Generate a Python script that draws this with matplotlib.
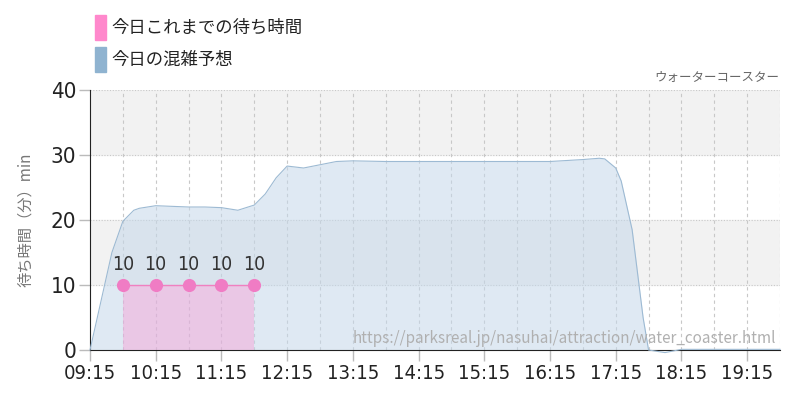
import matplotlib
matplotlib.use("Agg")
import matplotlib.pyplot as plt
from matplotlib.patches import Rectangle
from matplotlib import font_manager

plt.rcParams["font.family"] = ["Noto Sans CJK JP", "DejaVu Sans"]

# forecast (minutes after 09:15, wait minutes)
forecast_t = [0, 10, 20, 30, 40, 45, 60, 75, 90, 105, 120, 135, 150, 160, 170, 180, 195, 210, 225,
              240, 270, 300, 330, 360, 390, 420, 450, 465, 470, 480, 485, 495, 505, 510, 525, 540,
              570, 630]
forecast_v = [0, 7.5, 15.0, 19.8, 21.5, 21.8, 22.2, 22.1, 22.0, 22.0, 21.9, 21.5, 22.3, 24.0, 26.5,
              28.3, 28.0, 28.5, 29.0, 29.1, 29.0, 29.0, 29.0, 29.0, 29.0, 29.0, 29.3, 29.5, 29.4,
              28.0, 26.0, 18.5, 5.0, 0.0, -0.4, 0.1, 0.1, 0.1]

# actual observed waits
actual_t = [30, 60, 90, 120, 150]
actual_v = [10, 10, 10, 10, 10]

x_ticks = [0, 60, 120, 180, 240, 300, 360, 420, 480, 540, 600]
x_labels = ["09:15", "10:15", "11:15", "12:15", "13:15", "14:15", "15:15",
            "16:15", "17:15", "18:15", "19:15"]
y_ticks = [0, 10, 20, 30, 40]

num_font = font_manager.FontProperties(family="DejaVu Sans", stretch="condensed")

fig = plt.figure(figsize=(8, 4), dpi=100)
ax = fig.add_axes([0.1125, 0.125, 0.8625, 0.65])
ax.set_xlim(0, 630)
ax.set_ylim(0, 40)

# alternating bands
for lo in (10, 30):
    ax.axhspan(lo, lo + 10, color="#f2f2f2", zorder=0)

for x in range(30, 631, 30):
    ax.axvline(x, color="#c8c8c8", lw=0.8, ls=(0, (3, 3)), zorder=1)
for y in y_ticks[1:]:
    ax.axhline(y, color="#c8c8c8", lw=0.8, ls=(0, (1, 1.5)), zorder=1)

ax.fill_between(forecast_t, forecast_v, 0, color="#c5d8ea", alpha=0.55, lw=0, zorder=2)
ax.plot(forecast_t, forecast_v, color="#9dbad3", lw=0.8, zorder=4, clip_on=False)

ax.fill_between(actual_t, actual_v, 0, color="#ff88cc", alpha=0.35, lw=0, zorder=4)
ax.plot(actual_t, actual_v, color="#f080c0", lw=1, zorder=5)
ax.scatter(actual_t, actual_v, s=90, color="#f07cc4", zorder=6, lw=0)
for t, v in zip(actual_t, actual_v):
    txt = ax.annotate(str(v), (t, v), xytext=(0, 8), textcoords="offset points",
                      ha="center", va="bottom", color="#333333",
                      fontproperties=num_font, zorder=7)
    txt.set_fontsize(14)

ax.set_xticks(x_ticks)
ax.set_xticklabels(x_labels, fontproperties=num_font, color="#222222")
ax.set_yticks(y_ticks)
ax.set_yticklabels([str(y) for y in y_ticks], fontproperties=num_font, color="#222222")
for lab in ax.get_xticklabels():
    lab.set_fontsize(14.5)
for lab in ax.get_yticklabels():
    lab.set_fontsize(16)
ax.tick_params(axis="both", length=8, color="#bbbbbb", width=1, pad=2)

for side in ("top", "right"):
    ax.spines[side].set_visible(False)
ax.spines["left"].set_color("#222222")
ax.spines["bottom"].set_color("#222222")
ax.spines["bottom"].set_zorder(3)

ax.set_ylabel("待ち時間（分）min", fontsize=11, color="#777777", labelpad=12)

# legend
fig.patches.append(Rectangle((95 / 800, 1 - 40 / 400), 11 / 800, 25 / 400,
                             transform=fig.transFigure, color="#ff88cc"))
fig.text(111 / 800, 1 - 28 / 400, "今日これまでの待ち時間", fontsize=12.5,
         va="center", color="#222222")
fig.patches.append(Rectangle((95 / 800, 1 - 72 / 400), 11 / 800, 25 / 400,
                             transform=fig.transFigure, color="#8fb3d0"))
fig.text(111 / 800, 1 - 60 / 400, "今日の混雑予想", fontsize=12.5,
         va="center", color="#222222")

fig.text(779 / 800, 1 - 77 / 400, "ウォーターコースター", fontsize=9,
         ha="right", va="center", color="#666666")
ax.text(0.995, 0.045, "https://parksreal.jp/nasuhai/attraction/water_coaster.html",
        transform=ax.transAxes, ha="right", va="center", fontsize=11,
        color="#b0b0b0", zorder=8)

fig.savefig("out.png", dpi=100)
